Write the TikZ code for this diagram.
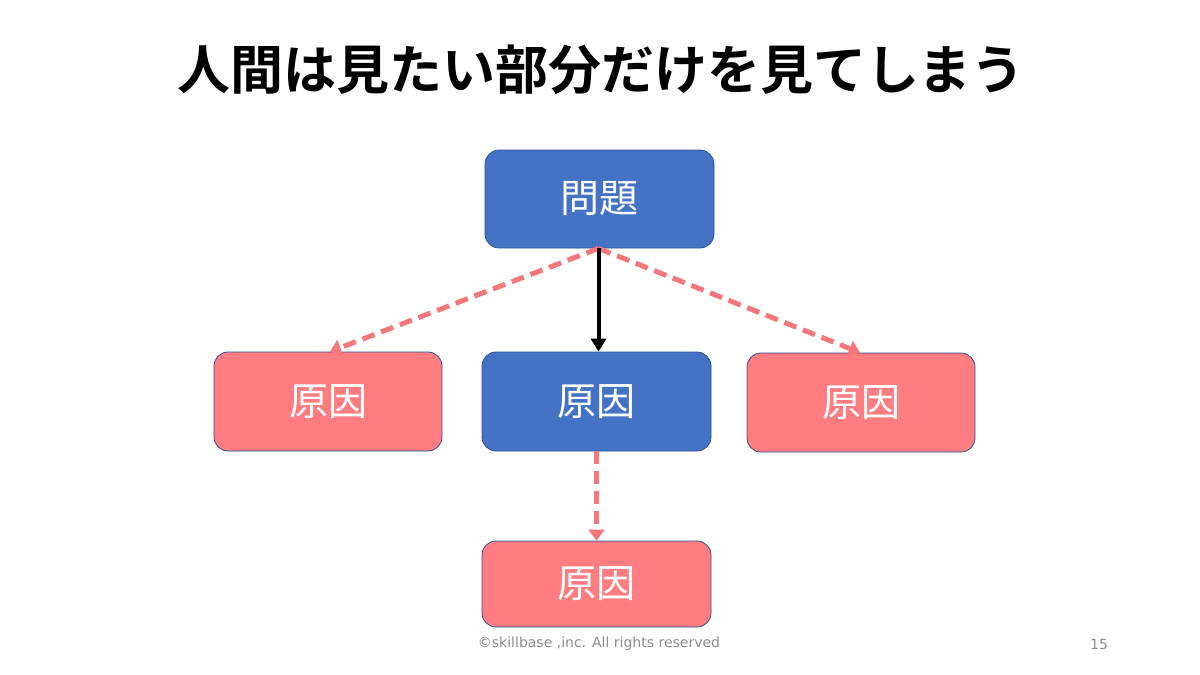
\documentclass[tikz,border=0pt]{standalone}
\usepackage{fontspec}
\newfontfamily\cjk{Noto Sans CJK JP}
\newfontfamily\cjkb{Noto Sans CJK JP}[BoldFont={* Bold}]
\setmainfont{DejaVu Sans}
\usetikzlibrary{arrows.meta}
\definecolor{boxblue}{HTML}{4472C4}
\definecolor{boxpink}{HTML}{FF7C80}
\definecolor{edgeblue}{HTML}{2F528F}
\definecolor{dashpink}{HTML}{F4777B}
\definecolor{footgray}{HTML}{8C8C8C}
\tikzset{
  box/.style={rectangle, rounded corners=14pt, draw=edgeblue, line width=0.8pt,
    text=white, font=\cjk\fontsize{39}{42}\selectfont, inner sep=0pt},
  bluebox/.style={box, fill=boxblue},
  pinkbox/.style={box, fill=boxpink},
  solidarrow/.style={line width=4pt, -{Triangle[length=13pt,width=15pt]}, black},
  dasharrow/.style={line width=5pt, dashpink, dash pattern=on 13pt off 7pt,
    -{Triangle[length=11pt,width=16pt]}}
}
\begin{document}
\begin{tikzpicture}[x=1pt,y=-1pt]
\useasboundingbox (0,0) rectangle (1200,675);
\node[font=\cjkb\bfseries\fontsize{53}{57}\selectfont] (title) at (601,70) {人間は見たい部分だけを見てしまう};
\node[bluebox, minimum width=229pt, minimum height=98pt] (top) at (599.5,199) {問題};
\node[pinkbox, minimum width=228pt, minimum height=99pt] (left) at (328,401.5) {原因};
\node[bluebox, minimum width=229pt, minimum height=99pt] (mid) at (596.5,401.5) {原因};
\node[pinkbox, minimum width=228pt, minimum height=99pt] (right) at (861,402.5) {原因};
\node[pinkbox, minimum width=229pt, minimum height=86pt] (bot) at (596.5,584) {原因};
\draw[dasharrow] ([xshift=-1pt]top.south) -- ([xshift=2pt]left.north);
\draw[dasharrow] ([xshift=-1pt]top.south) -- ([xshift=-1pt]right.north);
\draw[solidarrow] ([xshift=-1pt]top.south) -- ([xshift=2pt]mid.north);
\draw[dasharrow] (mid.south) -- (bot.north);
\node[text=footgray, font=\fontsize{14}{16}\selectfont] (foot) at (599,644) {©skillbase ,inc. All rights reserved};
\node[text=footgray, font=\fontsize{14}{16}\selectfont] (page) at (1099,644) {15};
\end{tikzpicture}
\end{document}
